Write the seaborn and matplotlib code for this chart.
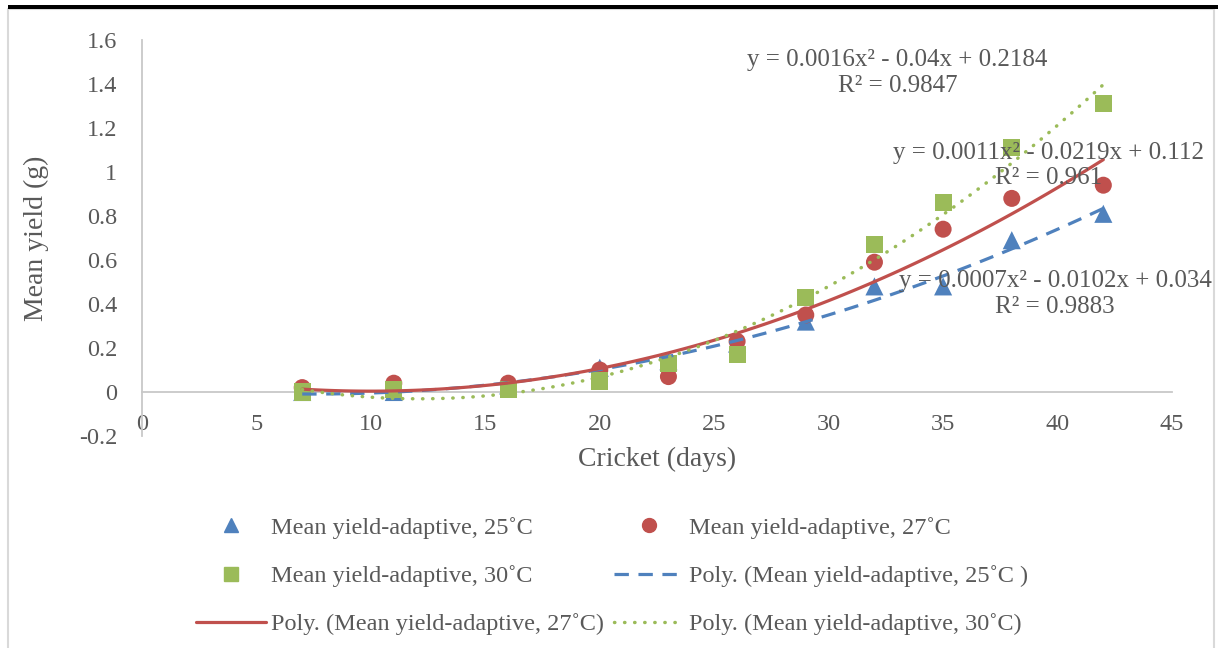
import numpy as np
import pandas as pd
import seaborn as sns
import matplotlib.pyplot as plt
import matplotlib.patches as patches
import matplotlib.ticker as ticker
from matplotlib.lines import Line2D

# cricket age (days) and mean yield (g) at three rearing temperatures
days = [7, 11, 16, 20, 23, 26, 29, 32, 35, 38, 42]
yield_25 = [0.0, 0.0, 0.03, 0.11, 0.14, 0.22, 0.32, 0.48, 0.48, 0.69, 0.81]
yield_27 = [0.02, 0.04, 0.04, 0.10, 0.07, 0.23, 0.35, 0.59, 0.74, 0.88, 0.94]
yield_30 = [0.0, 0.01, 0.01, 0.05, 0.13, 0.17, 0.43, 0.67, 0.86, 1.11, 1.31]

eq_25 = "y = 0.0007x² - 0.0102x + 0.034\nR² = 0.9883"
eq_27 = "y = 0.0011x² - 0.0219x + 0.112\nR² = 0.961"
eq_30 = "y = 0.0016x² - 0.04x + 0.2184\nR² = 0.9847"

blue, red, green = "#4F81BD", "#C0504D", "#9BBB59"
grey_txt = "#595959"
grey_line = "#C8C8C8"

sns.set_theme(style="white")
plt.rcParams["font.family"] = ["Liberation Serif", "DejaVu Serif"]
plt.rcParams["text.color"] = grey_txt
plt.rcParams["axes.labelcolor"] = grey_txt
plt.rcParams["xtick.color"] = grey_txt
plt.rcParams["ytick.color"] = grey_txt

df = pd.DataFrame({"days": days, "y25": yield_25, "y27": yield_27, "y30": yield_30})

fig = plt.figure(figsize=(12.18, 6.48), dpi=100)
ax = fig.add_axes([142 / 1218, 1 - 436 / 648, 1030 / 1218, 396 / 648])

# scatter points
sns.scatterplot(x="days", y="y25", data=df, ax=ax, marker="^", s=170, color=blue,
                edgecolor="none", zorder=3)
sns.scatterplot(x="days", y="y27", data=df, ax=ax, marker="o", s=150, color=red,
                edgecolor="none", zorder=3)
sns.scatterplot(x="days", y="y30", data=df, ax=ax, marker="s", s=150, color=green,
                edgecolor="none", zorder=3)

# polynomial (order 2) trendlines
sns.regplot(x="days", y="y25", data=df, ax=ax, order=2, ci=None, scatter=False,
            line_kws=dict(color=blue, lw=2.3, ls=(0, (4.5, 3)), zorder=4))
sns.regplot(x="days", y="y27", data=df, ax=ax, order=2, ci=None, scatter=False,
            line_kws=dict(color=red, lw=2.3, ls="-", zorder=4))
sns.regplot(x="days", y="y30", data=df, ax=ax, order=2, ci=None, scatter=False,
            line_kws=dict(color=green, lw=2.5, ls=(0, (0.1, 2.8)),
                          dash_capstyle="round", zorder=4))

ax.set_xlim(0, 45)
ax.set_ylim(-0.2, 1.6)
ax.xaxis.set_major_locator(ticker.MultipleLocator(5))
ax.yaxis.set_major_locator(ticker.MultipleLocator(0.2))
ax.yaxis.set_major_formatter(ticker.FuncFormatter(lambda v, p: f"{round(v, 1):g}"))
ax.tick_params(axis="both", length=0, labelsize=17.5)
ax.tick_params(axis="x", pad=16)
ax.tick_params(axis="y", pad=18)

for s in ["top", "right"]:
    ax.spines[s].set_visible(False)
ax.spines["left"].set_color(grey_line)
ax.spines["left"].set_linewidth(1.3)
ax.spines["bottom"].set_position(("data", 0))
ax.spines["bottom"].set_color(grey_line)
ax.spines["bottom"].set_linewidth(1.3)

ax.set_xlabel("Cricket (days)", fontsize=20)
ax.set_ylabel("Mean yield (g)", fontsize=20)
ax.xaxis.set_label_coords(0.5, -0.028)
ax.yaxis.set_label_coords(-0.09, 0.5)

# trendline equations
eq_kw = dict(ha="center", va="center", fontsize=18, zorder=5, linespacing=1.2)
ax.text(33.0, 1.45, eq_30, **eq_kw)
ax.text(39.6, 1.03, eq_27, **eq_kw)
ax.text(39.9, 0.445, eq_25, **eq_kw)

# legend, ordered so it reads row by row
h_t25 = Line2D([], [], ls="none", marker="^", ms=10, color=blue)
h_c27 = Line2D([], [], ls="none", marker="o", ms=10, color=red)
h_s30 = Line2D([], [], ls="none", marker="s", ms=9.5, color=green)
h_p25 = Line2D([], [], color=blue, lw=2.3, ls=(0, (4.5, 3)))
h_p27 = Line2D([], [], color=red, lw=2.3)
h_p30 = Line2D([], [], color=green, lw=2.5, ls=(0, (0.1, 2.8)), dash_capstyle="round")
handles = [h_t25, h_s30, h_p27, h_c27, h_p25, h_p30]
labels = ["Mean yield-adaptive, 25˚C", "Mean yield-adaptive, 30˚C",
          "Poly. (Mean yield-adaptive, 27˚C)", "Mean yield-adaptive, 27˚C",
          "Poly. (Mean yield-adaptive, 25˚C )", "Poly. (Mean yield-adaptive, 30˚C)"]
fig.legend(handles, labels, ncol=2, loc="center", bbox_to_anchor=(612 / 1218, 1 - 576 / 648),
           frameon=False, fontsize=17.5, handlelength=2.9, handletextpad=0.2,
           columnspacing=0.4, labelspacing=1.07)

# chart frame: grey border and black top rule
fig.patches.append(patches.Rectangle((8 / 1218, -0.05), 1206 / 1218, 1 - 9 / 648 + 0.05,
                                     transform=fig.transFigure, fill=False,
                                     edgecolor="#D9D9D9", lw=1.5))
fig.patches.append(patches.Rectangle((8 / 1218, 1 - 8.5 / 648), 1210 / 1218, 3.5 / 648,
                                     transform=fig.transFigure, color="black", lw=0))

fig.savefig("out.png", dpi=100)
